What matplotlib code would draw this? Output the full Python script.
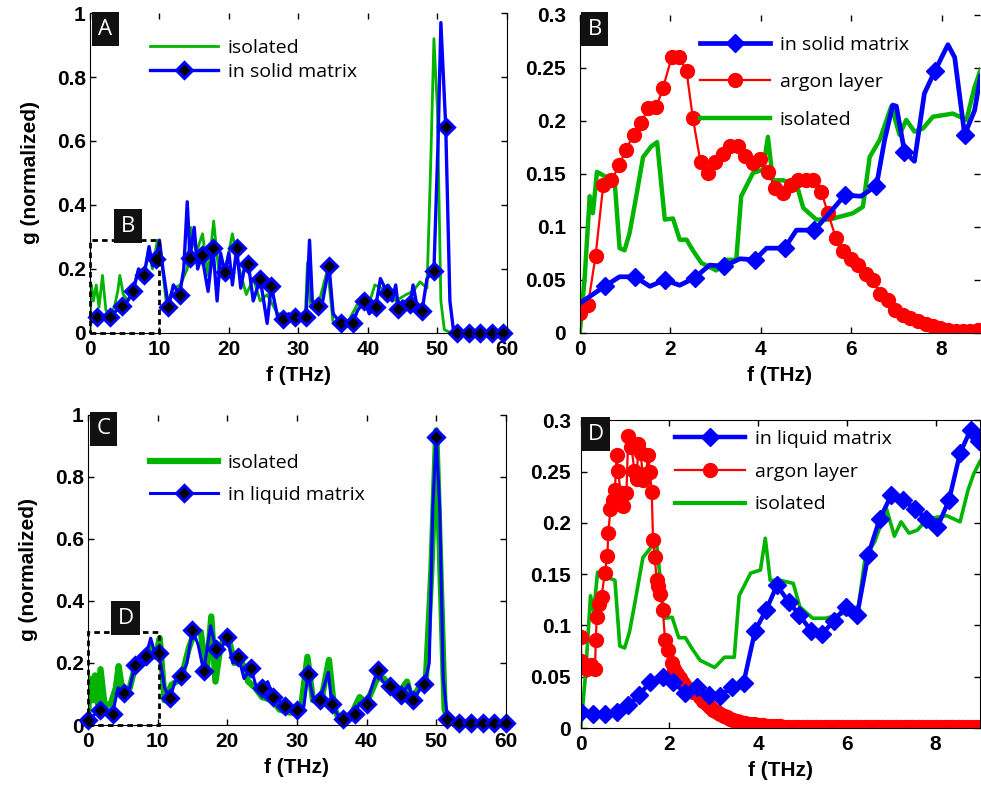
import numpy as np
import matplotlib.pyplot as plt
from matplotlib.lines import Line2D
from matplotlib.patches import Rectangle

plt.rcParams['font.family'] = ['Liberation Sans', 'DejaVu Sans']

GREEN = '#00b400'
BLUE = '#0000ff'
RED = '#ff0000'

# ---- panel A: full spectrum, solid matrix ----
a_iso = [(0, 0.0), (0.2, 0.15), (0.5, 0.10), (0.9, 0.15), (1.3, 0.08), (1.8, 0.18), (2.3, 0.07),
         (2.9, 0.06), (3.5, 0.08), (4.0, 0.13), (4.3, 0.18), (4.8, 0.12), (5.5, 0.10), (6.0, 0.12),
         (7.0, 0.20), (7.8, 0.19), (8.5, 0.26), (9.0, 0.20), (9.7, 0.29), (10.2, 0.25), (11.0, 0.09),
         (12.0, 0.14), (13.0, 0.15), (14.0, 0.20), (14.5, 0.33), (15.3, 0.25), (16.2, 0.31), (17.0, 0.18),
         (17.8, 0.35), (18.5, 0.20), (19.5, 0.20), (20.5, 0.31), (21.5, 0.20), (22.5, 0.12), (23.5, 0.17),
         (24.5, 0.10), (25.5, 0.12), (27.0, 0.06), (28.0, 0.06), (30.0, 0.05), (31.0, 0.06), (31.3, 0.22),
         (31.8, 0.08), (33.0, 0.10), (34.2, 0.20), (35.0, 0.03), (37.0, 0.03), (38.5, 0.09), (40.0, 0.08),
         (41.0, 0.15), (42.0, 0.14), (43.0, 0.15), (44.0, 0.10), (45.5, 0.12), (46.5, 0.13), (47.5, 0.16),
         (48.5, 0.14), (49.0, 0.50), (49.5, 0.92), (50.0, 0.70), (50.5, 0.10), (51.0, 0.01), (52.0, 0.0),
         (60.0, 0.0)]
a_solid = [(0, 0.03), (0.96, 0.05), (1.9, 0.045), (2.9, 0.05), (3.8, 0.07), (4.6, 0.085), (5.4, 0.10),
           (6.2, 0.13), (7.0, 0.20), (7.8, 0.18), (8.5, 0.27), (9.0, 0.21), (9.5, 0.23), (10.0, 0.29),
           (10.5, 0.20), (11.3, 0.08), (12.0, 0.15), (12.9, 0.12), (13.5, 0.20), (14.0, 0.41), (14.4, 0.235),
           (15.0, 0.33), (15.5, 0.20), (16.1, 0.245), (16.6, 0.18), (17.0, 0.13), (17.7, 0.265), (18.3, 0.10),
           (18.8, 0.25), (19.4, 0.19), (20.0, 0.25), (20.5, 0.15), (21.1, 0.265), (21.7, 0.14), (22.2, 0.20),
           (22.8, 0.215), (23.5, 0.10), (24.5, 0.17), (25.5, 0.03), (26.1, 0.148), (27.0, 0.05), (27.8, 0.045),
           (28.6, 0.06), (29.5, 0.05), (30.3, 0.04), (31.1, 0.05), (31.6, 0.29), (32.0, 0.10), (32.8, 0.085),
           (33.5, 0.10), (34.4, 0.21), (35.0, 0.06), (36.1, 0.03), (37.8, 0.03), (38.5, 0.07), (39.5, 0.10),
           (40.2, 0.06), (41.1, 0.08), (41.8, 0.17), (42.8, 0.125), (43.5, 0.10), (44.0, 0.15), (44.4, 0.075),
           (45.0, 0.10), (46.1, 0.09), (46.5, 0.15), (47.1, 0.08), (47.8, 0.07), (48.5, 0.17), (49.5, 0.195),
           (50.1, 0.60), (50.5, 0.97), (51.2, 0.645), (51.8, 0.10), (52.3, 0.01), (52.8, 0.0), (60.0, 0.0)]
a_solid_marks = [(0.96, 0.05), (2.9, 0.05), (4.6, 0.085), (6.2, 0.13), (7.8, 0.18), (9.5, 0.23), (11.3, 0.08),
                 (12.9, 0.12), (14.4, 0.235), (16.1, 0.245), (17.7, 0.265), (19.4, 0.19), (21.1, 0.265),
                 (22.8, 0.215), (24.5, 0.17), (26.1, 0.148), (27.8, 0.045), (29.5, 0.05), (31.1, 0.05),
                 (32.8, 0.085), (34.4, 0.21), (36.1, 0.03), (37.8, 0.03), (39.5, 0.10), (41.1, 0.08),
                 (42.8, 0.125), (44.4, 0.075), (46.1, 0.09), (47.8, 0.07), (49.5, 0.195), (51.2, 0.645),
                 (52.8, 0.0), (54.5, 0.0), (56.2, 0.0), (57.8, 0.0), (59.5, 0.0)]

# ---- panels B / D: isolated molecule, low frequency ----
iso_low = [(0, 0.0), (0.11, 0.053), (0.22, 0.129), (0.29, 0.113), (0.38, 0.152), (0.59, 0.147), (0.77, 0.144),
           (0.88, 0.08), (0.99, 0.078), (1.1, 0.094), (1.22, 0.122), (1.4, 0.166), (1.58, 0.176), (1.71, 0.18),
           (1.88, 0.107), (2.06, 0.108), (2.21, 0.088), (2.36, 0.088), (2.5, 0.078), (2.69, 0.066), (3.02, 0.059),
           (3.24, 0.069), (3.46, 0.069), (3.57, 0.129), (3.83, 0.151), (4.05, 0.154), (4.16, 0.185), (4.27, 0.144),
           (4.49, 0.144), (4.79, 0.141), (4.94, 0.118), (5.23, 0.107), (5.52, 0.107), (5.78, 0.11), (6.04, 0.113),
           (6.26, 0.119), (6.41, 0.166), (6.63, 0.182), (6.89, 0.214), (7.07, 0.187), (7.22, 0.201), (7.4, 0.19),
           (7.59, 0.193), (7.81, 0.204), (8.25, 0.207), (8.55, 0.201), (8.73, 0.232), (8.86, 0.248), (9.0, 0.26)]

# ---- panel B ----
b_solid = [(0, 0.028), (0.55, 0.044), (0.88, 0.053), (1.22, 0.053), (1.55, 0.044), (1.88, 0.05), (2.21, 0.045),
           (2.54, 0.052), (2.87, 0.064), (3.2, 0.063), (3.54, 0.07), (3.87, 0.069), (4.13, 0.08), (4.53, 0.08),
           (4.79, 0.097), (5.19, 0.097), (5.52, 0.113), (5.86, 0.13), (6.22, 0.129), (6.56, 0.139), (6.74, 0.182),
           (6.92, 0.215), (7.0, 0.214), (7.18, 0.171), (7.4, 0.162), (7.62, 0.226), (7.85, 0.247), (8.14, 0.272),
           (8.29, 0.26), (8.51, 0.187), (8.73, 0.21), (8.86, 0.242)]
b_solid_marks = [(0.55, 0.044), (1.22, 0.053), (1.88, 0.05), (2.54, 0.052), (3.2, 0.063), (3.87, 0.069),
                 (4.53, 0.08), (5.19, 0.097), (5.86, 0.13), (6.56, 0.139), (7.18, 0.171), (7.85, 0.247),
                 (8.51, 0.187)]
b_argon = [(0, 0.019), (0.18, 0.026), (0.35, 0.073), (0.52, 0.14), (0.7, 0.144), (0.87, 0.158), (1.02, 0.173),
           (1.19, 0.187), (1.36, 0.198), (1.51, 0.212), (1.69, 0.213), (1.84, 0.231), (2.03, 0.26), (2.2, 0.26),
           (2.36, 0.247), (2.5, 0.203), (2.67, 0.161), (2.84, 0.151), (3.0, 0.161), (3.17, 0.169), (3.33, 0.176),
           (3.5, 0.176), (3.66, 0.167), (3.83, 0.16), (3.98, 0.164), (4.16, 0.152), (4.32, 0.137), (4.49, 0.132),
           (4.66, 0.14), (4.83, 0.144), (5.0, 0.144), (5.16, 0.144), (5.34, 0.133), (5.49, 0.113), (5.66, 0.09),
           (5.82, 0.077), (5.99, 0.07), (6.15, 0.064), (6.32, 0.056), (6.48, 0.05), (6.64, 0.037), (6.81, 0.031),
           (6.98, 0.022), (7.15, 0.017), (7.31, 0.014), (7.48, 0.011), (7.65, 0.008), (7.81, 0.007), (7.97, 0.0045),
           (8.14, 0.003), (8.31, 0.002), (8.47, 0.002), (8.63, 0.002), (8.8, 0.003)]

# ---- panel C: full spectrum, liquid matrix ----
c_iso = [(0, 0.0), (0.2, 0.15), (0.6, 0.08), (1.0, 0.16), (1.4, 0.07), (1.8, 0.18), (2.4, 0.06), (3.3, 0.07),
         (4.0, 0.12), (4.4, 0.19), (5.0, 0.10), (6.0, 0.12), (7.0, 0.21), (8.0, 0.20), (9.0, 0.25), (9.7, 0.22),
         (10.3, 0.28), (11.0, 0.08), (12.0, 0.13), (13.4, 0.15), (14.5, 0.25), (15.3, 0.30), (16.2, 0.30),
         (17.0, 0.16), (17.7, 0.35), (18.3, 0.14), (19.0, 0.25), (20.0, 0.30), (21.0, 0.20), (22.0, 0.21),
         (23.0, 0.14), (24.0, 0.12), (25.0, 0.09), (26.5, 0.08), (27.5, 0.05), (29.0, 0.04), (30.5, 0.04),
         (31.5, 0.22), (32.3, 0.08), (33.5, 0.08), (34.6, 0.21), (35.3, 0.06), (36.0, 0.02), (37.5, 0.02),
         (39.0, 0.09), (40.0, 0.07), (41.5, 0.15), (42.5, 0.15), (43.5, 0.12), (44.5, 0.10), (45.8, 0.14),
         (46.5, 0.08), (47.5, 0.12), (48.5, 0.14), (49.3, 0.50), (50.0, 0.95), (50.6, 0.50), (51.2, 0.05),
         (52.0, 0.0), (60.0, 0.0)]
c_liquid = [(0, 0.016), (1.7, 0.048), (3.55, 0.037), (4.3, 0.12), (5.17, 0.104), (6.0, 0.12), (6.74, 0.193),
            (7.5, 0.20), (8.32, 0.223), (9.0, 0.28), (9.5, 0.24), (10.2, 0.231), (11.0, 0.12), (11.76, 0.086),
            (12.5, 0.14), (13.4, 0.159), (14.2, 0.20), (15.0, 0.306), (15.8, 0.26), (16.6, 0.175), (17.6, 0.32),
            (18.4, 0.244), (19.2, 0.25), (20.0, 0.285), (20.8, 0.20), (21.6, 0.22), (22.4, 0.15), (23.4, 0.183),
            (24.2, 0.12), (25.0, 0.118), (25.8, 0.14), (26.6, 0.091), (27.4, 0.08), (28.3, 0.061), (29.0, 0.05),
            (30.0, 0.048), (31.0, 0.06), (31.6, 0.166), (32.3, 0.09), (33.3, 0.082), (34.5, 0.17), (35.0, 0.067),
            (35.8, 0.035), (36.6, 0.021), (38.3, 0.037), (39.0, 0.07), (40.0, 0.067), (41.0, 0.14), (41.6, 0.177),
            (42.3, 0.14), (43.3, 0.126), (44.1, 0.09), (45.0, 0.097), (46.0, 0.13), (46.7, 0.08), (47.5, 0.11),
            (48.3, 0.132), (49.0, 0.20), (49.5, 0.70), (50.0, 0.93), (50.5, 0.70), (51.0, 0.15), (51.6, 0.021),
            (53.3, 0.005), (60.0, 0.005)]
c_liquid_marks = [(0, 0.016), (1.7, 0.048), (3.55, 0.037), (5.17, 0.104), (6.74, 0.193), (8.32, 0.223),
                  (10.2, 0.231), (11.76, 0.086), (13.4, 0.159), (15.0, 0.306), (16.6, 0.175), (18.4, 0.244),
                  (20.0, 0.285), (21.6, 0.22), (23.4, 0.183), (25.0, 0.118), (26.6, 0.091), (28.3, 0.061),
                  (30.0, 0.048), (31.6, 0.166), (33.3, 0.082), (35.0, 0.067), (36.6, 0.021), (38.3, 0.037),
                  (40.0, 0.067), (41.6, 0.177), (43.3, 0.126), (45.0, 0.097), (46.7, 0.08), (48.3, 0.132),
                  (50.0, 0.93), (51.6, 0.021), (53.3, 0.005), (55.0, 0.005), (56.7, 0.005), (58.3, 0.005),
                  (60.0, 0.005)]

# ---- panel D ----
d_liquid = [(0, 0.016), (0.28, 0.014), (0.54, 0.014), (0.81, 0.016), (1.07, 0.022), (1.32, 0.032), (1.56, 0.045),
            (1.85, 0.05), (2.09, 0.045), (2.35, 0.034), (2.61, 0.04), (2.88, 0.032), (3.14, 0.031), (3.4, 0.04),
            (3.67, 0.044), (3.93, 0.095), (4.18, 0.115), (4.42, 0.139), (4.69, 0.123), (4.93, 0.11), (5.19, 0.095),
            (5.44, 0.092), (5.7, 0.104), (5.97, 0.118), (6.23, 0.11), (6.48, 0.169), (6.74, 0.204), (7.0, 0.227),
            (7.27, 0.222), (7.53, 0.214), (7.79, 0.204), (8.04, 0.196), (8.3, 0.222), (8.55, 0.268), (8.79, 0.291),
            (8.98, 0.28)]
d_argon = [(0, 0.089), (0.015, 0.065), (0.13, 0.058), (0.24, 0.061), (0.32, 0.058), (0.34, 0.086), (0.36, 0.108),
           (0.41, 0.121), (0.47, 0.128), (0.54, 0.151), (0.6, 0.168), (0.62, 0.19), (0.67, 0.214), (0.73, 0.222),
           (0.77, 0.232), (0.81, 0.266), (0.84, 0.251), (0.9, 0.229), (0.96, 0.216), (1.03, 0.229), (1.07, 0.285),
           (1.14, 0.274), (1.21, 0.251), (1.26, 0.243), (1.3, 0.277), (1.35, 0.268), (1.41, 0.242), (1.47, 0.248),
           (1.52, 0.266), (1.56, 0.25), (1.6, 0.23), (1.63, 0.183), (1.67, 0.167), (1.71, 0.144), (1.75, 0.138),
           (1.79, 0.131), (1.85, 0.115), (1.9, 0.086), (1.97, 0.076), (2.05, 0.063), (2.1, 0.058), (2.16, 0.053),
           (2.23, 0.049), (2.31, 0.044), (2.38, 0.04), (2.46, 0.037), (2.53, 0.035), (2.61, 0.034), (2.68, 0.03),
           (2.76, 0.026), (2.84, 0.023), (2.92, 0.02), (2.99, 0.018), (3.07, 0.016), (3.14, 0.014), (3.22, 0.012),
           (3.29, 0.011), (3.37, 0.009), (3.44, 0.008), (3.52, 0.007), (3.59, 0.006), (3.7, 0.005), (3.8, 0.004),
           (3.9, 0.0035), (4.0, 0.003), (4.1, 0.0027), (4.2, 0.0024), (4.3, 0.002), (4.4, 0.0018), (4.5, 0.0015),
           (4.6, 0.0013), (4.7, 0.0012), (4.8, 0.001), (4.9, 0.001), (5.0, 0.001), (5.1, 0.001), (5.2, 0.001),
           (5.3, 0.001), (5.4, 0.001), (5.5, 0.001), (5.6, 0.001), (5.7, 0.001), (5.8, 0.001), (5.9, 0.001),
           (6.0, 0.001), (6.1, 0.001), (6.2, 0.001), (6.3, 0.001), (6.4, 0.001), (6.5, 0.001), (6.6, 0.001),
           (6.7, 0.001), (6.8, 0.001), (6.9, 0.001), (7.0, 0.001), (7.1, 0.001), (7.2, 0.001), (7.3, 0.001),
           (7.4, 0.001), (7.5, 0.001), (7.6, 0.001), (7.7, 0.001), (7.8, 0.001), (7.9, 0.001), (8.0, 0.001),
           (8.1, 0.001), (8.2, 0.001), (8.3, 0.001), (8.4, 0.001), (8.5, 0.001), (8.6, 0.001), (8.7, 0.001),
           (8.8, 0.001), (8.9, 0.001), (9.0, 0.001)]


def xy(pairs):
    arr = np.array(pairs, dtype=float)
    return arr[:, 0], arr[:, 1]


def style_axes(ax, xlim, ylim, xticks, yticks, ylabels, ypad):
    ax.set_xlim(*xlim)
    ax.set_ylim(*ylim)
    ax.set_xticks(xticks)
    ax.set_yticks(yticks)
    ax.set_yticklabels(ylabels)
    ax.tick_params(direction='in', top=True, right=True, length=4, width=1, labelsize=15)
    ax.tick_params(axis='y', pad=ypad)
    ax.tick_params(axis='x', pad=5)
    for lab in ax.get_xticklabels() + ax.get_yticklabels():
        lab.set_fontweight('bold')
    ax.set_xlabel('f (THz)', fontsize=15, fontweight='bold', labelpad=5)


def tag(ax, letter, x, y, coords):
    ax.text(x, y, letter, transform=coords, color='white', fontsize=16, ha='center', va='center',
            fontfamily='Open Sans',
            bbox=dict(boxstyle='square,pad=0.3', facecolor='#111111', edgecolor='none'), zorder=10)


fig = plt.figure(figsize=(9.81, 7.89), dpi=100)

big_yt = [0, 0.2, 0.4, 0.6, 0.8, 1.0]
big_yl = ['0', '0.2', '0.4', '0.6', '0.8', '1']
small_yt = [0, 0.05, 0.1, 0.15, 0.2, 0.25, 0.3]
small_yl = ['0', '0.05', '0.1', '0.15', '0.2', '0.25', '0.3']
legprops = dict(family='Open Sans', size=14)

# ---------------- A ----------------
axA = fig.add_axes([0.0917, 0.578, 0.425, 0.4055])
f, g = xy(a_iso)
axA.plot(f, g, color=GREEN, lw=2)
f, g = xy(a_solid)
axA.plot(f, g, color=BLUE, lw=2.4)
f, g = xy(a_solid_marks)
axA.plot(f, g, ls='none', marker='D', ms=8, mfc='black', mec=BLUE, mew=2.2, clip_on=False)
style_axes(axA, (0, 60), (0, 1), range(0, 61, 10), big_yt, big_yl, 3)
axA.spines['top'].set_visible(False)
axA.set_ylabel('g (normalized)', fontsize=15, fontweight='bold', labelpad=12)
axA.add_patch(Rectangle((0, 0), 10, 0.29, fill=False, ls=(0, (2, 1.5)), lw=2, color='black',
                        clip_on=False, zorder=5))
tag(axA, 'B', 5.45, 0.334, axA.transData)
tag(axA, 'A', 0.037, 0.95, axA.transAxes)
hA = [Line2D([], [], color=GREEN, lw=2),
      Line2D([], [], color=BLUE, lw=2.4, marker='D', ms=8, mfc='black', mec=BLUE, mew=2.2)]
axA.legend(hA, ['isolated', 'in solid matrix'], loc='upper left', bbox_to_anchor=(0.144, 0.918),
           frameon=False, prop=legprops, borderpad=0, borderaxespad=0, handlelength=3.5,
           handletextpad=0.5, labelspacing=0.3)

# ---------------- B ----------------
axB = fig.add_axes([0.591, 0.578, 0.408, 0.403])
f, g = xy(iso_low)
axB.plot(f, g, color=GREEN, lw=3.2)
f, g = xy(b_argon)
axB.plot(f, g, color=RED, lw=1.6, marker='o', ms=10, mfc=RED, mec=RED)
f, g = xy(b_solid)
axB.plot(f, g, color=BLUE, lw=3.4)
f, g = xy(b_solid_marks)
axB.plot(f, g, ls='none', marker='D', ms=9, mfc=BLUE, mec=BLUE)
style_axes(axB, (0, 8.85), (0, 0.3), [0, 2, 4, 6, 8], small_yt, small_yl, 10)
axB.spines['top'].set_visible(False)
axB.spines['right'].set_visible(False)
tag(axB, 'B', 0.037, 0.955, axB.transAxes)
hB = [Line2D([], [], color=BLUE, lw=3.4, marker='D', ms=9, mfc=BLUE, mec=BLUE),
      Line2D([], [], color=RED, lw=1.6, marker='o', ms=10, mfc=RED, mec=RED),
      Line2D([], [], color=GREEN, lw=3.2)]
axB.legend(hB, ['in solid matrix', 'argon layer', 'isolated'], loc='upper left',
           bbox_to_anchor=(0.3, 0.935), frameon=False, prop=legprops, borderpad=0, borderaxespad=0,
           handlelength=3.6, handletextpad=0.5, labelspacing=1.0)

# ---------------- C ----------------
axC = fig.add_axes([0.0897, 0.0811, 0.426, 0.393])
f, g = xy(c_iso)
axC.plot(f, g, color=GREEN, lw=4.5)
f, g = xy(c_liquid)
axC.plot(f, g, color=BLUE, lw=2.2)
f, g = xy(c_liquid_marks)
axC.plot(f, g, ls='none', marker='D', ms=8, mfc='black', mec=BLUE, mew=2.2, clip_on=False)
style_axes(axC, (0, 60), (0, 1), range(0, 61, 10), big_yt, big_yl, 3)
axC.spines['top'].set_visible(False)
axC.set_ylabel('g (normalized)', fontsize=15, fontweight='bold', labelpad=12)
axC.add_patch(Rectangle((0, 0), 10.2, 0.30, fill=False, ls=(0, (2, 1.5)), lw=2, color='black',
                        clip_on=False, zorder=5))
tag(axC, 'D', 5.4, 0.345, axC.transData)
tag(axC, 'C', 0.037, 0.955, axC.transAxes)
hC = [Line2D([], [], color=GREEN, lw=4.5),
      Line2D([], [], color=BLUE, lw=2.2, marker='D', ms=8, mfc='black', mec=BLUE, mew=2.2)]
axC.legend(hC, ['isolated', 'in liquid matrix'], loc='upper left', bbox_to_anchor=(0.148, 0.875),
           frameon=False, prop=legprops, borderpad=0, borderaxespad=0, handlelength=3.5,
           handletextpad=0.5, labelspacing=0.75)

# ---------------- D ----------------
axD = fig.add_axes([0.592, 0.0773, 0.407, 0.390])
f, g = xy(iso_low)
axD.plot(f, g, color=GREEN, lw=2.6)
f, g = xy(d_argon)
axD.plot(f, g, color=RED, lw=1.6, marker='o', ms=10, mfc=RED, mec=RED)
f, g = xy(d_liquid)
axD.plot(f, g, color=BLUE, lw=3.2, marker='D', ms=9, mfc=BLUE, mec=BLUE)
style_axes(axD, (0, 9.0), (0, 0.3), [0, 2, 4, 6, 8], small_yt, small_yl, 7)
tag(axD, 'D', 0.037, 0.955, axD.transAxes)
hD = [Line2D([], [], color=BLUE, lw=3.2, marker='D', ms=9, mfc=BLUE, mec=BLUE),
      Line2D([], [], color=RED, lw=1.6, marker='o', ms=10, mfc=RED, mec=RED),
      Line2D([], [], color=GREEN, lw=3)]
axD.legend(hD, ['in liquid matrix', 'argon layer', 'isolated'], loc='upper left',
           bbox_to_anchor=(0.236, 0.968), frameon=False, prop=legprops, borderpad=0, borderaxespad=0,
           handlelength=3.6, handletextpad=0.5, labelspacing=0.75)

fig.savefig('out.png', dpi=100)
